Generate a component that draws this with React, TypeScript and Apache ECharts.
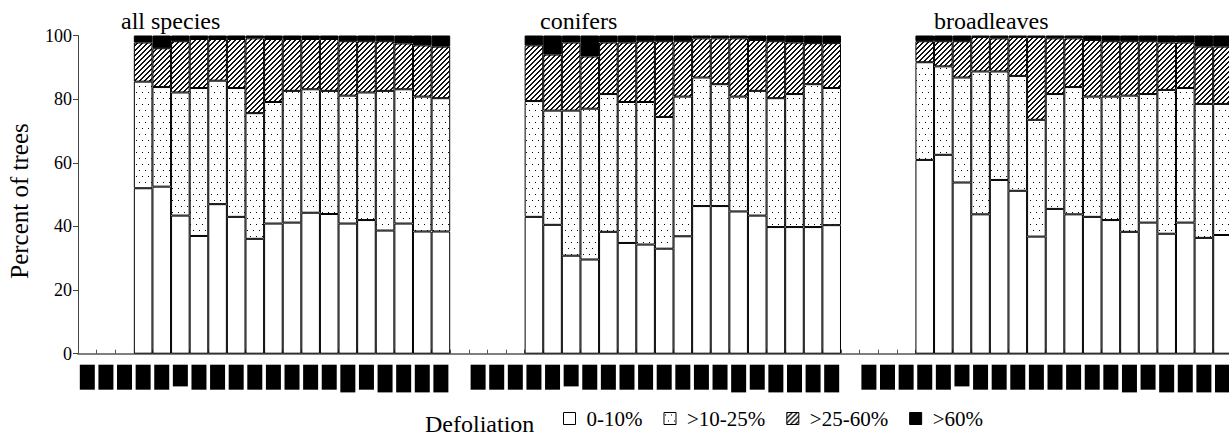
import React, { useEffect, useRef } from "react";
import * as echarts from "echarts";

// Tick labels (years) shared by the three panels
const years = [
  "1986", "1987", "1988", "1989", "1990", "1991", "1992", "1993", "1994", "1995",
  "1996", "1997", "1998", "1999", "2000", "2001", "2002", "2003", "2004", "2005",
];
const panelTitles = ["all species", "conifers", "broadleaves"];
const classNames = ["0-10%", ">10-25%", ">25-60%", ">60%"];

// Values for 1989–2005 (percent of trees in each defoliation class)
const allSpecies0to10 = [52.0, 52.5, 43.4, 37.0, 47.0, 43.0, 36.1, 40.9, 41.2, 44.3, 43.9, 40.9, 42.0, 38.7, 40.9, 38.4, 38.4];
const allSpecies10to25 = [33.5, 31.3, 38.7, 46.5, 38.8, 40.5, 39.5, 38.2, 41.4, 38.8, 38.7, 40.2, 40.1, 43.9, 42.2, 42.4, 41.9];
const allSpecies25to60 = [12.3, 12.2, 16.1, 15.4, 13.1, 15.4, 23.5, 19.8, 16.3, 15.8, 16.3, 17.1, 16.1, 15.6, 14.4, 16.1, 16.2];
const allSpeciesOver60 = [2.2, 4.0, 1.8, 1.1, 1.1, 1.1, 0.9, 1.1, 1.1, 1.1, 1.1, 1.8, 1.8, 1.8, 2.5, 3.1, 3.5];

const conifers0to10 = [43.0, 40.5, 30.8, 29.6, 38.3, 34.8, 34.3, 33.0, 36.9, 46.4, 46.4, 44.7, 43.4, 39.8, 39.8, 39.8, 40.4];
const conifers10to25 = [36.4, 35.9, 45.6, 47.4, 43.3, 44.3, 44.8, 41.4, 43.9, 40.4, 38.3, 36.1, 39.2, 40.5, 41.8, 44.9, 43.1];
const conifers25to60 = [17.5, 17.6, 21.4, 16.4, 16.2, 18.7, 19.1, 23.8, 17.4, 12.3, 14.4, 18.3, 16.0, 17.9, 16.2, 12.9, 14.1];
const conifersOver60 = [3.1, 6.0, 2.2, 6.6, 2.2, 2.2, 1.8, 1.8, 1.8, 0.9, 0.9, 0.9, 1.4, 1.8, 2.2, 2.4, 2.4];

const broadleaves0to10 = [60.9, 62.5, 53.8, 43.8, 54.6, 51.2, 36.8, 45.5, 43.8, 43.0, 42.0, 38.3, 41.2, 37.7, 41.2, 36.4, 37.3];
const broadleaves10to25 = [30.7, 27.8, 33.0, 44.9, 34.1, 36.1, 36.7, 36.1, 40.0, 37.8, 38.8, 42.8, 40.4, 45.2, 42.3, 42.1, 41.2];
const broadleaves25to60 = [6.6, 7.9, 11.4, 10.8, 10.4, 12.2, 26.0, 17.5, 15.3, 17.8, 17.4, 17.1, 16.6, 14.9, 14.3, 18.0, 18.0];
const broadleavesOver60 = [1.8, 1.8, 1.8, 0.5, 0.9, 0.5, 0.5, 0.9, 0.9, 1.4, 1.8, 1.8, 1.8, 2.2, 2.2, 3.5, 3.5];

const panelValues = [
  [allSpecies0to10, allSpecies10to25, allSpecies25to60, allSpeciesOver60],
  [conifers0to10, conifers10to25, conifers25to60, conifersOver60],
  [broadleaves0to10, broadleaves10to25, broadleaves25to60, broadleavesOver60],
];

const SERIF = "Liberation Serif";

function makeDots() {
  const c = document.createElement("canvas");
  c.width = 6;
  c.height = 12;
  const g = c.getContext("2d")!;
  g.fillStyle = "#fff";
  g.fillRect(0, 0, 6, 12);
  g.fillStyle = "#000";
  g.fillRect(1, 2, 1, 1);
  g.fillRect(4, 8, 1, 1);
  return { image: c, repeat: "repeat", imageWidth: 6, imageHeight: 12 };
}

function makeHatch() {
  const n = 5;
  const c = document.createElement("canvas");
  c.width = n;
  c.height = n;
  const g = c.getContext("2d")!;
  g.fillStyle = "#fff";
  g.fillRect(0, 0, n, n);
  g.fillStyle = "#111";
  for (let x = 0; x < n; x++) {
    g.fillRect(x, (n - 1 - x + n) % n, 1, 1);
    g.fillRect(x, (n - x + n) % n, 1, 1);
  }
  return { image: c, repeat: "repeat", imageWidth: n, imageHeight: n };
}

export default function App() {
  const ref = useRef<HTMLDivElement>(null);

  useEffect(() => {
    if (!ref.current) return;
    const chart = echarts.init(ref.current, null, { renderer: "svg" });

    const categories: string[] = [];
    panelTitles.forEach((_, p) => {
      years.forEach((y) => categories.push(`${p}|${y}`));
      if (p < panelTitles.length - 1) categories.push(`gap${p}`);
    });

    const seriesData = classNames.map((_, k) => {
      const arr: (number | null)[] = [];
      panelValues.forEach((vals, p) => {
        const v = vals[k];
        const pad = years.length - v.length;
        for (let i = 0; i < pad; i++) arr.push(null);
        v.forEach((x) => arr.push(x));
        if (p < panelValues.length - 1) arr.push(null);
      });
      return arr;
    });

    const fills = ["#ffffff", makeDots(), makeHatch(), "#000000"];

    const labelStyle = (w: number) => ({
      width: w,
      height: 15,
      lineHeight: 15,
      backgroundColor: "#000",
      color: "#000",
      fontSize: 10,
      fontFamily: SERIF,
    });

    chart.setOption({
      animation: false,
      backgroundColor: "#fff",
      textStyle: { fontFamily: SERIF },
      grid: { left: 78, top: 35.5, height: 318.2, right: 1235 - 1231.8 },
      xAxis: {
        type: "category",
        data: categories,
        axisLine: { lineStyle: { color: "#555", width: 1.5 } },
        axisTick: { show: true, inside: true, length: 4, interval: 0, lineStyle: { color: "#555" } },
        axisLabel: {
          interval: 0,
          rotate: 90,
          margin: 11,
          formatter: (v: string) => {
            if (v.startsWith("gap")) return "";
            const y = v.split("|")[1];
            const ones = y.split("").filter((ch) => ch === "1").length;
            const cls = ones >= 2 ? "s" : ones === 1 ? "n" : "t";
            return `{${cls}|${y}}`;
          },
          rich: { s: labelStyle(21.7), n: labelStyle(25), t: labelStyle(27.7) },
        },
      },
      yAxis: {
        type: "value",
        min: 0,
        max: 100,
        interval: 20,
        splitLine: { show: false },
        axisLine: { show: true, lineStyle: { color: "#444", width: 1 } },
        axisTick: { show: true, length: 5, lineStyle: { color: "#444" } },
        axisLabel: { color: "#000", fontSize: 18, fontFamily: SERIF, margin: 6 },
      },
      legend: {
        left: 563,
        top: 408,
        padding: 0,
        itemWidth: 12,
        itemHeight: 12,
        itemGap: 21,
        icon: "rect",
        data: classNames,
        itemStyle: { borderColor: "#000", borderWidth: 1 },
        textStyle: { color: "#000", fontSize: 21, fontFamily: SERIF, padding: [0, 0, 0, 6] },
      },
      graphic: [
        ...panelTitles.map((t, i) => ({
          type: "text",
          left: [121, 540, 934][i],
          top: 9,
          style: { text: t, fontSize: 24, fontFamily: SERIF, fill: "#000" },
        })),
        {
          type: "text",
          x: 425,
          y: 424,
          style: { text: "Defoliation", fontSize: 24, fontFamily: SERIF, fill: "#000", verticalAlign: "middle" },
        },
        {
          type: "text",
          x: 19.5,
          y: 201,
          rotation: Math.PI / 2,
          style: {
            text: "Percent of trees",
            fontSize: 25,
            fontFamily: SERIF,
            fill: "#000",
            align: "center",
            verticalAlign: "middle",
          },
        },
      ],
      series: classNames.map((name, k) => ({
        name,
        type: "bar",
        stack: "total",
        barCategoryGap: "0%",
        data: seriesData[k],
        itemStyle: { color: fills[k], borderColor: "#000", borderWidth: 1 },
      })),
    });

    return () => chart.dispose();
  }, []);

  return (
    <div style={{ position: "fixed", left: 0, top: 0, width: 1229, height: 441, overflow: "hidden", background: "#fff" }}>
      <div ref={ref} style={{ width: 1235, height: 441 }} />
    </div>
  );
}
